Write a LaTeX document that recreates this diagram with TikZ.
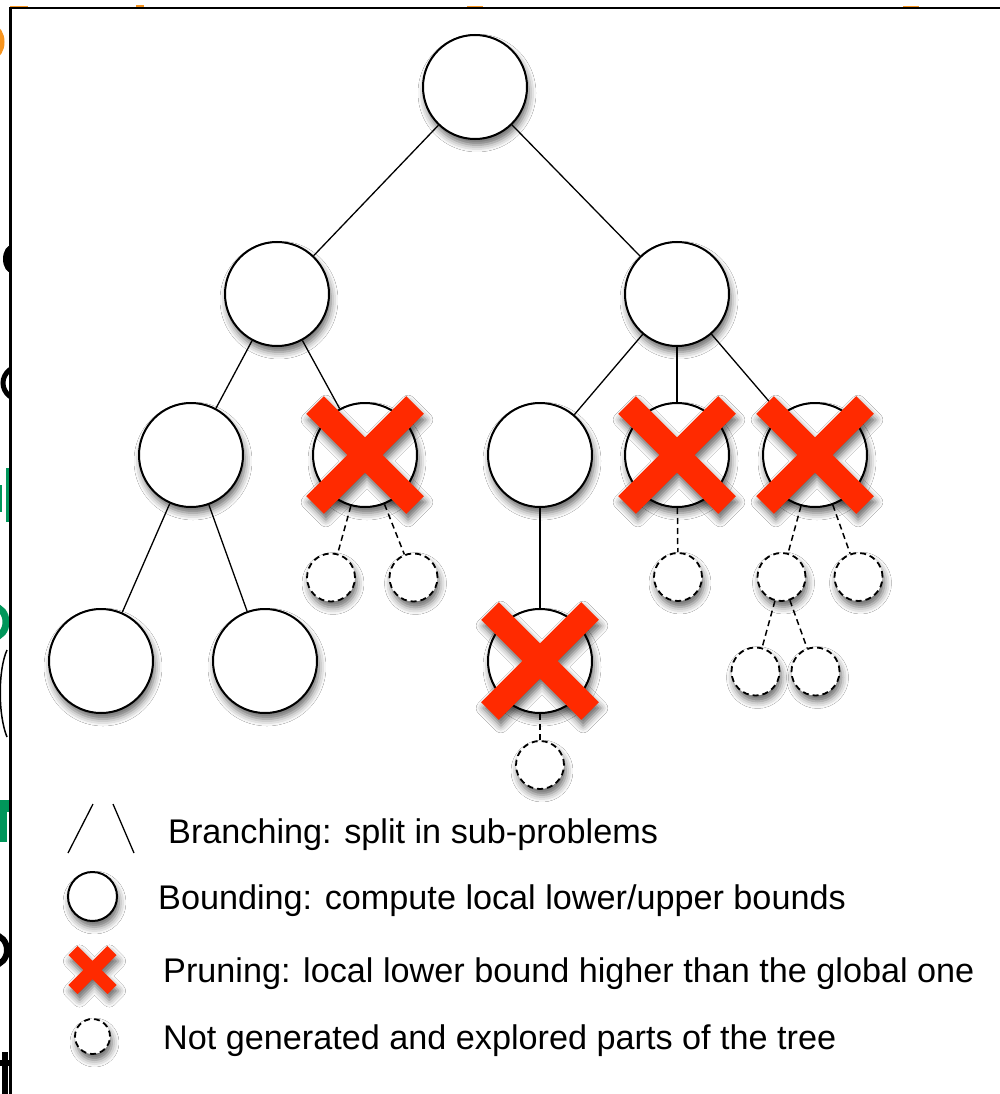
\documentclass[tikz,border=0pt]{standalone}
\usepackage{fontspec}
\setmainfont{Liberation Sans}
\usetikzlibrary{shadows.blur}
\definecolor{prunered}{RGB}{255,42,0}
\definecolor{inkorange}{RGB}{247,148,30}
\definecolor{inkgreen}{RGB}{0,150,90}
\tikzset{
  soft/.style={blur shadow={shadow xshift=2pt,shadow yshift=-6pt,shadow blur radius=7pt,shadow opacity=60}},
  bnode/.style={circle,draw,line width=2pt,fill=white,inner sep=0pt,minimum size=104pt,soft},
  dnode/.style={circle,draw,line width=1.8pt,dash pattern=on 6pt off 4pt,fill=white,inner sep=0pt,minimum size=48pt,soft},
  edge/.style={line width=1.3pt},
  dedge/.style={line width=1.5pt,dash pattern=on 6pt off 4pt},
  legtext/.style={anchor=base west,inner sep=0pt,font=\fontsize{34.2}{40}\selectfont},
  pics/prunex/.style 2 args={code={
    \fill[prunered,soft] ({-#1-#2},{-#1+#2}) -- ({-#1+#2},{-#1-#2}) -- (0,{-2*#2})
      -- ({#1-#2},{-#1-#2}) -- ({#1+#2},{-#1+#2}) -- ({2*#2},0)
      -- ({#1+#2},{#1-#2}) -- ({#1-#2},{#1+#2}) -- (0,{2*#2})
      -- ({-#1+#2},{#1+#2}) -- ({-#1-#2},{#1-#2}) -- ({-2*#2},0) -- cycle;
  }}
}
\begin{document}
\begin{tikzpicture}[x=1pt,y=-1pt]
\useasboundingbox (0,0) rectangle (1000,1094);
\fill[white] (0,0) rectangle (1000,1094);

% letters of the slide underneath, cut off by the panel
\begin{scope}
  \clip (0,0) rectangle (10,1094);
  \draw[inkorange,line width=7pt] (-8,42) ellipse[x radius=9,y radius=14];
  \fill (12,259) ellipse[x radius=9,y radius=14];
  \draw[line width=5pt] (24,383) ellipse[x radius=21,y radius=18];
  \fill[inkgreen] (6,468) rectangle (9,522);
  \fill[inkgreen] (0,485) rectangle (2,512);
  \draw[inkgreen,line width=7pt] (-6,622) ellipse[x radius=12,y radius=15];
  \draw[line width=1.5pt] (7,650) .. controls (-2,670) and (-2,715) .. (7,737);
  \fill[inkgreen] (0,806) rectangle (7,842);
  \fill[inkgreen] (0,800) rectangle (9,812);
  \draw[line width=6pt] (-6,950) ellipse[x radius=13,y radius=15];
  \fill (0,1060) rectangle (10,1066);
  \fill (2,1052) rectangle (8,1094);
\end{scope}
\fill[inkorange] (10,5.8) rectangle (28,7.5);
\fill[inkorange] (136,5.5) rectangle (144,7.5);
\fill[inkorange] (467,5.8) rectangle (483,7.5);
\fill[inkorange] (903,5.8) rectangle (919,7.5);

% panel frame
\coordinate (fbl) at (10.7,1094);
\coordinate (ftl) at (10.7,8);
\coordinate (ftr) at (1000,8);
\draw[line width=2.5pt] (fbl) -- (ftl) -- (ftr);

% explored nodes
\node[bnode] (r)   at (475,87)  {};
\node[bnode] (a)   at (277,294) {};
\node[bnode] (b)   at (677,294) {};
\node[bnode] (a1)  at (191,455) {};
\node[bnode] (a2)  at (365,455) {};
\node[bnode] (b1)  at (540,455) {};
\node[bnode] (b2)  at (677,455) {};
\node[bnode] (b3)  at (815,455) {};
\node[bnode] (a11) at (101,661) {};
\node[bnode] (a12) at (265,661) {};
\node[bnode] (b11) at (540,661) {};

% parts never generated
\node[dnode] (a21)  at (331,577.5) {};
\node[dnode] (a22)  at (413.5,577.5) {};
\node[dnode] (b21)  at (678,577) {};
\node[dnode] (b31)  at (781.5,577) {};
\node[dnode] (b32)  at (858.5,577) {};
\node[dnode] (b311) at (755.5,671.5) {};
\node[dnode] (b312) at (815.5,671.5) {};
\node[dnode] (b111) at (540,765) {};

% branches
\draw[edge] (r) -- (a);
\draw[edge] (r) -- (b);
\draw[edge] (a) -- (a1);
\draw[edge] (a) -- (a2);
\draw[edge] (b) -- (b1);
\draw[edge] (b) -- (b2);
\draw[edge] (b) -- (b3);
\draw[edge] (a1) -- (a11);
\draw[edge] (a1) -- (a12);
\draw[edge] (b1) -- (b11);
\draw[dedge] (a2) -- (a21);
\draw[dedge] (a2) -- (a22);
\draw[dedge] (b2) -- (b21);
\draw[dedge] (b3) -- (b31);
\draw[dedge] (b3) -- (b32);
\draw[dedge] (b31) -- (b311);
\draw[dedge] (b31) -- (b312);
\draw[dedge] (b11) -- (b111);

% pruned nodes
\pic at (a2)  {prunex={50}{8.84}};
\pic at (b2)  {prunex={50}{8.84}};
\pic at (b3)  {prunex={50}{8.84}};
\pic at (b11) {prunex={50}{8.84}};

% legend
\coordinate (l1a) at (68,853);
\coordinate (l1b) at (93,804);
\coordinate (l2a) at (113,804);
\coordinate (l2b) at (134,853);
\draw[edge] (l1a) -- (l1b);
\draw[edge] (l2a) -- (l2b);
\node[bnode,minimum size=49pt] (lc) at (92.5,896.5) {};
\coordinate (lx) at (92.5,970);
\pic at (lx) {prunex={19.5}{4.6}};
\node[dnode,minimum size=35pt] (ld) at (92.5,1036.5) {};

\node[legtext] (t1) at (168,843) {Branching: split in sub-problems};
\node[legtext] (t2) at (158,909) {Bounding: compute local lower/upper bounds};
\node[legtext] (t3) at (163,982) {Pruning: local lower bound higher than the global one};
\node[legtext] (t4) at (163,1049) {Not generated and explored parts of the tree};
\end{tikzpicture}
\end{document}
